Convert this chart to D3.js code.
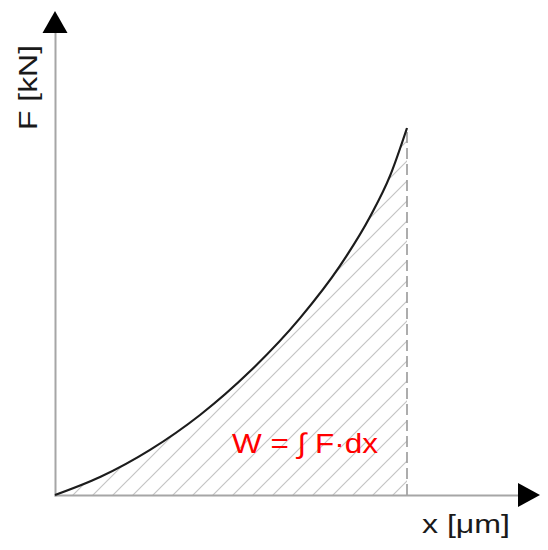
<!DOCTYPE html>
<html>
<head>
<meta charset="utf-8">
<script src="https://cdn.jsdelivr.net/npm/d3@7"></script>
<style>
  body { margin: 0; background: #fff; }
  svg { display: block; }
  text { font-family: "Liberation Sans", Arial, sans-serif; }
</style>
</head>
<body>
<svg id="chart"></svg>
<script>
// displacement (arbitrary units) and force
var xValues = [0, 1.28, 2.7, 4.12, 5.54, 6.96, 8.1, 8.95, 9.52, 10];
var fValues = [0, 0.49, 1.23, 2.18, 3.37, 4.82, 6.25, 7.58, 8.7, 10];
var xLabel = "x [\u03bcm]";
var yLabel = "F [kN]";
var workLabel = "W = \u222b F\u00b7dx";

var width = 548,
    height = 550;

var svg = d3.select("#chart")
    .attr("width", width)
    .attr("height", height);

var x = d3.scaleLinear().domain([0, 10]).range([55, 407]);
var y = d3.scaleLinear().domain([0, 10]).range([495, 128]);

var data = xValues.map(function (d, i) { return { x: d, f: fValues[i] }; });
var xEnd = d3.max(xValues);
var fEnd = fValues[fValues.length - 1];

// hatch pattern
var defs = svg.append("defs");
var pat = defs.append("pattern")
    .attr("id", "hatch")
    .attr("patternUnits", "userSpaceOnUse")
    .attr("x", 8)
    .attr("y", 0)
    .attr("width", 20)
    .attr("height", 20);
pat.append("path")
    .attr("d", "M-5,5L5,-5M0,20L20,0M15,25L25,15")
    .attr("stroke", "#c4c4c4")
    .attr("stroke-width", 1.2);

// hatched area under the curve
var area = d3.area()
    .x(function (d) { return x(d.x); })
    .y0(y(0))
    .y1(function (d) { return y(d.f); })
    .curve(d3.curveMonotoneX);

svg.append("path")
    .datum(data)
    .attr("d", area)
    .attr("fill", "url(#hatch)");

// dashed end line
svg.append("line")
    .attr("x1", x(xEnd)).attr("x2", x(xEnd))
    .attr("y1", y(0)).attr("y2", y(fEnd))
    .attr("stroke", "#999")
    .attr("stroke-width", 1.6)
    .attr("stroke-dasharray", "11,5");

// axes (no ticks, just the lines)
var xAxisScale = d3.scaleLinear().domain([0, 13.2]).range([54, 520]);
var yAxisScale = d3.scaleLinear().domain([0, 12.5]).range([496, 30]);

svg.append("g")
    .attr("transform", "translate(0," + y(0) + ")")
    .call(d3.axisBottom(xAxisScale).tickValues([]).tickSizeOuter(0))
    .select(".domain")
    .attr("stroke", "#a6a6a6")
    .attr("stroke-width", 2);

svg.append("g")
    .attr("transform", "translate(" + x(0) + ",0)")
    .call(d3.axisLeft(yAxisScale).tickValues([]).tickSizeOuter(0))
    .select(".domain")
    .attr("stroke", "#a6a6a6")
    .attr("stroke-width", 2);

// arrow heads
var xa = xAxisScale.range()[1], ya = yAxisScale.range()[1];
svg.append("path")
    .attr("d", "M" + (xa - 2) + "," + (y(0) - 12) + "L" + (xa + 20) + "," + y(0) + "L" + (xa - 2) + "," + (y(0) + 12) + "Z")
    .attr("fill", "#000");
svg.append("path")
    .attr("d", "M" + (x(0) - 12.5) + "," + (ya + 3) + "L" + x(0) + "," + (ya - 19) + "L" + (x(0) + 12.5) + "," + (ya + 3) + "Z")
    .attr("fill", "#000");

// the curve
var line = d3.line()
    .x(function (d) { return x(d.x); })
    .y(function (d) { return y(d.f); })
    .curve(d3.curveMonotoneX);

svg.append("path")
    .datum(data)
    .attr("d", line)
    .attr("fill", "none")
    .attr("stroke", "#1c1c1c")
    .attr("stroke-width", 2.2);

// labels (the source is a bit wider than the font, so stretch them)
svg.append("text")
    .attr("transform", "translate(37,130) rotate(-90)")
    .attr("font-size", 26)
    .attr("fill", "#1a1a1a")
    .attr("textLength", 85)
    .attr("lengthAdjust", "spacingAndGlyphs")
    .text(yLabel);

svg.append("text")
    .attr("x", 422)
    .attr("y", 533)
    .attr("font-size", 26)
    .attr("fill", "#1a1a1a")
    .attr("textLength", 88)
    .attr("lengthAdjust", "spacingAndGlyphs")
    .text(xLabel);

svg.append("text")
    .attr("x", 232)
    .attr("y", 453)
    .attr("font-size", 28)
    .attr("fill", "#ff0000")
    .attr("textLength", 146)
    .attr("lengthAdjust", "spacingAndGlyphs")
    .text(workLabel);
</script>
</body>
</html>
